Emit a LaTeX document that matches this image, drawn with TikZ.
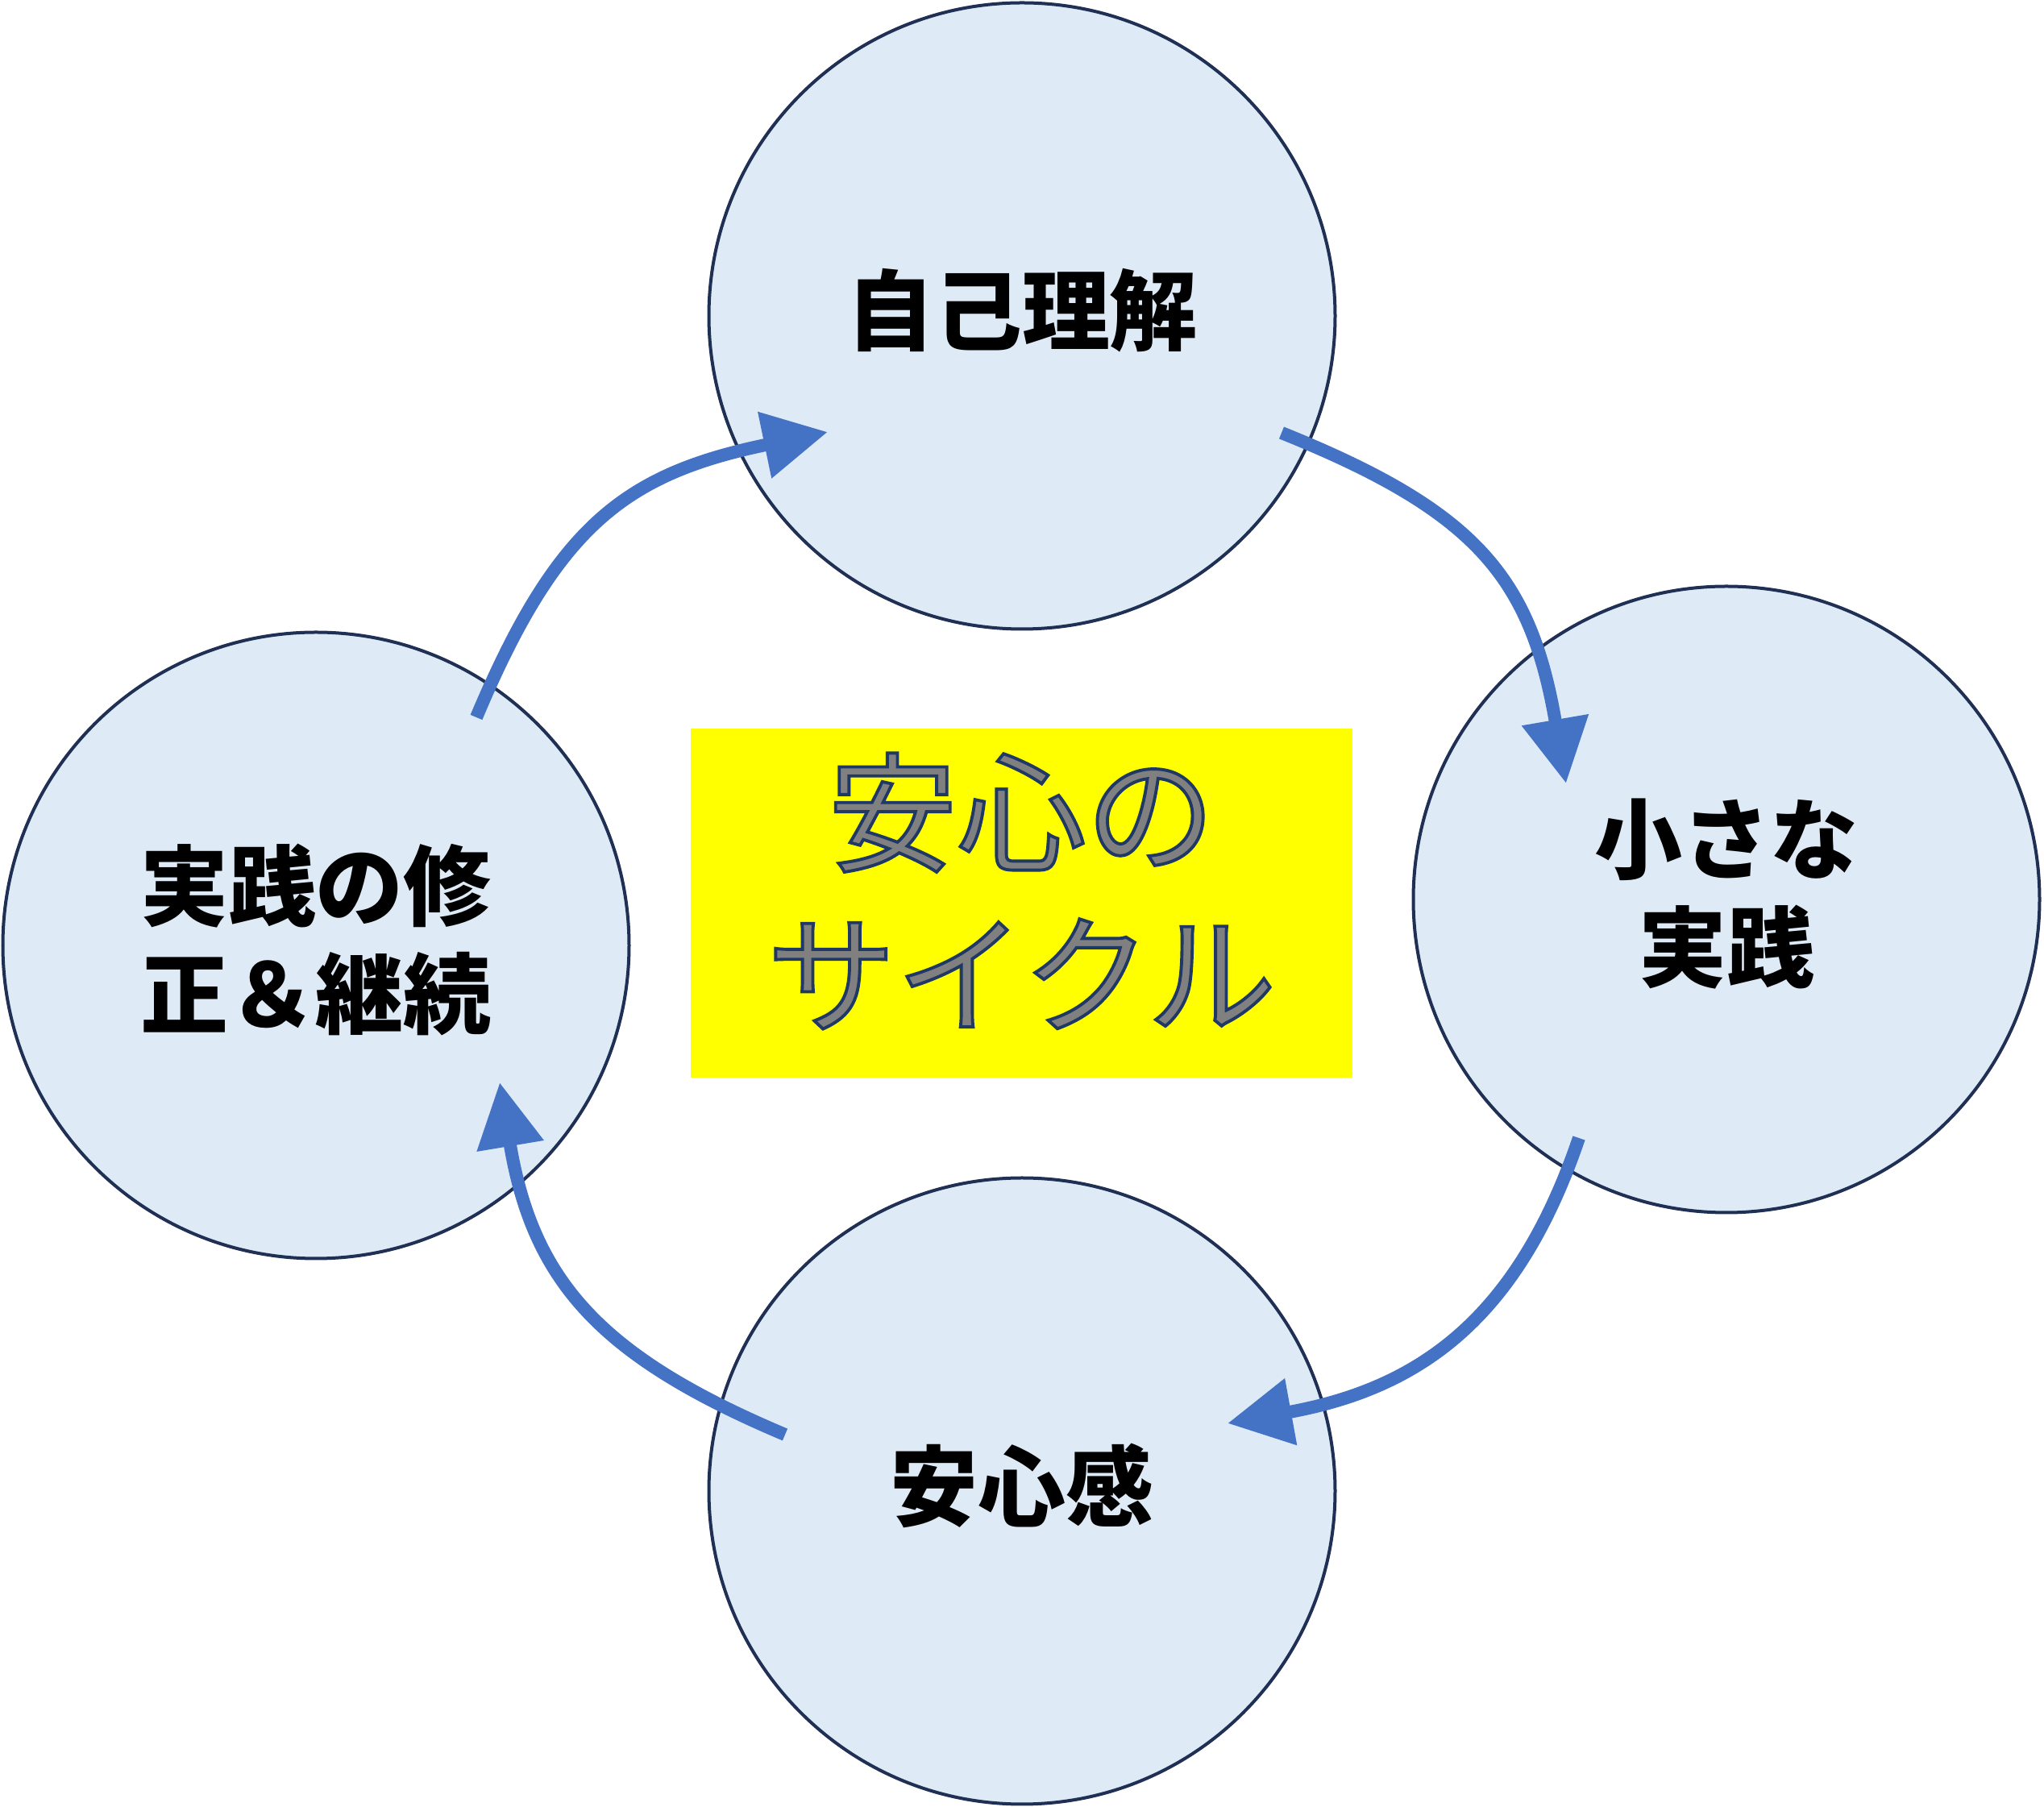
\documentclass[tikz,border=0pt]{standalone}
\usepackage{fontspec}
\newfontfamily\jpfont{Noto Sans CJK JP}
\usepackage{xcolor}
\usetikzlibrary{arrows.meta}
\definecolor{circfill}{RGB}{222,235,247}
\definecolor{circline}{RGB}{31,48,84}
\definecolor{cycleblue}{RGB}{68,114,196}
\definecolor{bannerfill}{RGB}{255,255,0}
\definecolor{labelgray}{RGB}{128,128,128}
% outlined caption text: fill in the text colour, stroke in dark blue
\newcommand{\outl}[1]{\special{pdf:literal direct 0.122 0.220 0.392 RG 2 Tr 1.1 w}#1\special{pdf:literal direct 0 Tr 0.4 w}}
\pgfdeclarelayer{nodelayer}
\pgfdeclarelayer{edgelayer}
\pgfsetlayers{nodelayer,edgelayer,main}
\tikzstyle{none}=[inner sep=-1pt]
\tikzstyle{stage}=[shape=circle, draw=circline, fill=circfill, line width=0.04cm, minimum size=7.77cm, inner sep=0pt]
\tikzstyle{stagetext}=[inner sep=0pt, align=center, font=\jpfont\bfseries\fontsize{31}{38}\selectfont]
\tikzset{banner/.style={fill=bannerfill, minimum width=8.21cm, minimum height=4.33cm, inner sep=0pt}}
\tikzset{caption/.style={inner sep=0pt, align=center, text=labelgray, font=\jpfont\fontsize{45.5}{57}\selectfont}}
\tikzset{cyclearrow/.style={line width=0.16cm, color=cycleblue, -{Triangle[length=0.8cm, width=0.8cm]}}}

\begin{document}
\begin{tikzpicture}
        \useasboundingbox (0,0) rectangle (25.36,22.42);
        \begin{pgfonlayer}{nodelayer}
            \node [style=stage] (0) at (12.68, 18.50) {};
            \node [style=stage] (1) at (21.42, 11.26) {};
            \node [style=stage] (2) at (12.68, 3.92) {};
            \node [style=stage] (3) at (3.92, 10.69) {};
            \node [style=stagetext] (14) at ([yshift=0.07cm]0.center) {自己理解};
            \node [style=stagetext] (15) at ([yshift=0.07cm]1.center) {小さな\\実践};
            \node [style=stagetext] (16) at ([yshift=0.07cm]2.center) {安心感};
            \node [style=stagetext] (17) at ([yshift=0.07cm]3.center) {実践の修\\正＆継続};
            \node [style=banner] (4) at (12.675, 11.215) {};
            \node [style=caption] (5) at ([yshift=0.15cm]4.center) {\outl{安心の}\\\outl{サイクル}};
            \node [style=none] (6) at (15.90, 17.05) {};
            \node [style=none] (7) at (19.43, 12.70) {};
            \node [style=none] (8) at (19.59, 8.30) {};
            \node [style=none] (9) at (15.23, 4.76) {};
            \node [style=none] (10) at (9.74, 4.62) {};
            \node [style=none] (11) at (6.20, 8.99) {};
            \node [style=none] (12) at (5.91, 13.52) {};
            \node [style=none] (13) at (10.27, 17.06) {};
        \end{pgfonlayer}
        \begin{pgfonlayer}{edgelayer}
            \draw [style=cyclearrow] (6.center) .. controls (18.31, 16.08) and (18.99, 15.26) .. (7.center);
            \draw [style=cyclearrow] (8.center) .. controls (18.82, 6.03) and (17.59, 5.19) .. (9.center);
            \draw [style=cyclearrow] (10.center) .. controls (7.44, 5.59) and (6.61, 6.53) .. (11.center);
            \draw [style=cyclearrow] (12.center) .. controls (6.91, 15.90) and (7.76, 16.54) .. (13.center);
        \end{pgfonlayer}
    \end{tikzpicture}
\end{document}
